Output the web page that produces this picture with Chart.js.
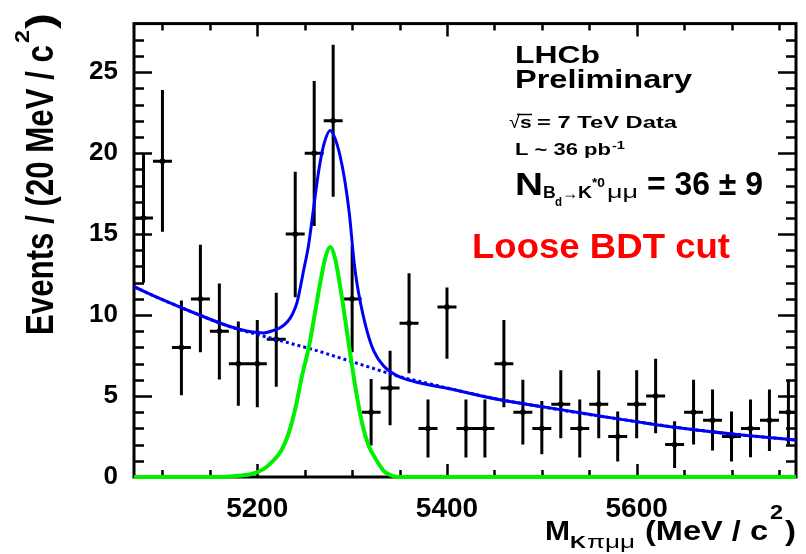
<!DOCTYPE html>
<html>
<head>
<meta charset="utf-8">
<script src="https://cdn.jsdelivr.net/npm/chart.js@4.4.1/dist/chart.umd.min.js"></script>
<style>
  html, body { margin: 0; background: #fff; }
</style>
</head>
<body>
<canvas id="mass" width="806" height="554"></canvas>
<script>
// K pi mu mu invariant mass, 20 MeV bins
const massBins = [5080, 5100, 5120, 5140, 5160, 5180, 5200, 5220, 5240, 5260, 5280, 5300,
                  5320, 5340, 5360, 5380, 5400, 5420, 5440, 5460, 5480, 5500, 5520, 5540,
                  5560, 5580, 5600, 5620, 5640, 5660, 5680, 5700, 5720, 5740, 5760];
const events   = [16, 19.5, 8, 11, 9, 7, 7, 8.5, 15, 20, 22, 11,
                  4, 5.5, 9.5, 3, 10.5, 3, 3, 7, 4, 3, 4.5, 3,
                  4.5, 2.5, 4.5, 5, 2, 4, 3.5, 2.5, 3, 3.5, 4];
const errHigh  = [4.0, 4.4, 2.9, 3.35, 2.95, 2.6, 2.7, 2.88, 3.85, 4.45, 4.7, 3.3,
                  2.05, 2.3, 3.08, 1.78, 1.2, 1.78, 1.78, 2.7, 2.0, 1.7, 2.1, 1.78,
                  2.1, 1.55, 2.1, 2.3, 1.45, 2.0, 1.9, 1.55, 1.78, 1.9, 2.0];
const errLow   = [4.0, 4.35, 2.95, 3.3, 2.98, 2.6, 2.7, 2.92, 3.9, 4.5, 4.7, 3.3,
                  2.05, 2.3, 3.1, 1.79, 3.2, 1.79, 1.79, 2.7, 2.0, 1.6, 2.1, 1.79,
                  2.1, 1.55, 2.1, 2.3, 1.45, 2.0, 1.87, 1.55, 1.78, 1.9, 2.0];
const binHalf = 10;

// total fit (signal + background)
const fitX = [5070, 5100, 5137, 5172, 5195, 5207, 5217, 5225, 5232, 5237, 5242, 5249, 5254,
              5258, 5265, 5270, 5277, 5282, 5287, 5292, 5297, 5302, 5305, 5309, 5316, 5323,
              5333, 5347, 5365, 5400, 5453, 5505, 5558, 5610, 5663, 5716, 5768];
const fitY = [11.75, 10.95, 10.05, 9.28, 8.95, 8.9, 9.05, 9.25, 9.6, 10.05, 10.8, 12.8, 14.3,
              16.0, 19.0, 20.5, 21.4, 20.9, 19.9, 18.4, 16.3, 13.3, 12.0, 10.7, 8.95, 7.76,
              6.87, 6.27, 5.9, 5.48, 4.8, 4.3, 3.8, 3.32, 2.9, 2.56, 2.28];

// combinatorial background component
const bkgX = [5070, 5100, 5140, 5170, 5200, 5230, 5260, 5290, 5320, 5350, 5380, 5400,
              5450, 5500, 5550, 5600, 5650, 5700, 5768];
const bkgY = [11.75, 10.95, 9.98, 9.30, 8.80, 8.33, 7.85, 7.3, 6.75, 6.2, 5.78, 5.5,
              4.85, 4.33, 3.86, 3.42, 3.0, 2.66, 2.28];

// Bd -> K*0 mu mu signal component
const sigX = [5070, 5160, 5180, 5195, 5207, 5215, 5225, 5233, 5240, 5247, 5255, 5261, 5267,
              5272, 5277, 5282, 5287, 5293, 5299, 5305, 5311, 5317, 5326, 5333, 5340, 5348, 5768];
const sigY = [0, 0, 0.08, 0.2, 0.5, 0.9, 1.6, 2.7, 4.2, 6.2, 8.2, 10.2, 12.2,
              13.6, 14.2, 13.5, 11.9, 9.6, 7.2, 5.0, 3.2, 2.0, 1.0, 0.4, 0.12, 0, 0];

const xTicks = [5200, 5400, 5600];
const yTicks = [0, 5, 10, 15, 20, 25];

const FONT = '"Liberation Sans", Arial, Helvetica, sans-serif';

const pts = (xs, ys) => xs.map((x, i) => ({ x: x, y: ys[i] }));

const vBars = [], hBars = [];
massBins.forEach((m, i) => {
  vBars.push({ x: m, y: events[i] - errLow[i] }, { x: m, y: events[i] + errHigh[i] }, { x: m, y: null });
  hBars.push({ x: m - binHalf, y: events[i] }, { x: m + binHalf, y: events[i] }, { x: m + binHalf, y: null });
});

// frame with ROOT style ticks on all four sides
const frame = {
  id: 'frame',
  beforeDatasetsDraw(chart) {
    const { ctx, chartArea: a, scales: { x, y } } = chart;
    ctx.save();
    ctx.strokeStyle = '#000';
    ctx.lineWidth = 2.5;
    ctx.beginPath();
    for (let v = 1; v < 28; v++) {
      const py = Math.round(y.getPixelForValue(v)) + 0.5;
      const len = v % 5 === 0 ? 18 : 10;
      ctx.moveTo(a.left, py); ctx.lineTo(a.left + len, py);
      ctx.moveTo(a.right, py); ctx.lineTo(a.right - len, py);
    }
    for (let m = 5100; m < 5768; m += 50) {
      const px = Math.round(x.getPixelForValue(m)) + 0.5;
      const len = m % 200 === 0 ? 13 : 7;
      ctx.moveTo(px, a.bottom); ctx.lineTo(px, a.bottom - len);
      ctx.moveTo(px, a.top); ctx.lineTo(px, a.top + len);
    }
    ctx.stroke();
    ctx.lineWidth = 3;
    ctx.strokeRect(a.left, a.top, a.right - a.left, a.bottom - a.top);
    ctx.restore();
  }
};

// text drawn left aligned on its baseline, squeezed to a given width
function put(ctx, t, x, y, font, w) {
  ctx.font = font;
  const nat = ctx.measureText(t).width;
  ctx.save();
  ctx.translate(x, y);
  ctx.scale(w ? w / nat : 1, 1);
  ctx.fillText(t, 0, 0);
  ctx.restore();
}

const labels = {
  id: 'labels',
  afterDraw(chart) {
    const ctx = chart.ctx;
    const B = s => 'bold ' + s + 'px ' + FONT;
    const N = s => s + 'px ' + FONT;
    ctx.save();
    ctx.fillStyle = '#000';
    ctx.strokeStyle = '#000';
    ctx.textAlign = 'left';
    ctx.textBaseline = 'alphabetic';

    // y axis title
    ctx.save();
    ctx.translate(53, 335);
    ctx.rotate(-Math.PI / 2);
    put(ctx, 'Events / (20 MeV / c', 0, 0, B(39), 290);
    put(ctx, '2', 292, -24, B(20), 13);
    put(ctx, ')', 306, 0, B(39), 16);
    ctx.restore();

    // x axis title
    put(ctx, 'M', 545, 540, B(28), 25);
    put(ctx, 'K', 570, 548, B(17), 16);
    put(ctx, 'πμμ', 587, 548, N(18), 48);
    put(ctx, '(MeV / c', 645, 540, B(28), 123);
    put(ctx, '2', 770, 519, B(21), 13);
    put(ctx, ')', 785, 540, B(28), 11);

    // experiment block
    put(ctx, 'LHCb', 515, 63, B(24), 85);
    put(ctx, 'Preliminary', 515, 88, B(25), 177);
    put(ctx, '√', 509, 128, N(18), 11);
    ctx.lineWidth = 1.5;
    ctx.beginPath();
    ctx.moveTo(517, 114.5); ctx.lineTo(532, 114.5);
    ctx.stroke();
    put(ctx, 's', 520, 128, B(17), 11.7);
    put(ctx, '= 7 TeV Data', 537, 128, B(17), 140);
    put(ctx, 'L ~ 36 pb', 515, 155, B(17), 96);
    put(ctx, '-1', 612, 149, B(11), 13);

    put(ctx, 'N', 515, 195, B(32), 28);
    put(ctx, 'B', 543, 198, B(17), 12.7);
    put(ctx, 'd', 555, 206, B(12), 7);
    put(ctx, '→', 562, 199, N(18), 16);
    put(ctx, 'K', 578, 198, B(17), 14);
    put(ctx, '*0', 592, 187, B(12), 13);
    put(ctx, 'μμ', 607, 198, N(19), 31);
    put(ctx, '= 36 ± 9', 647, 195, B(33), 116);

    ctx.fillStyle = '#ff0000';
    put(ctx, 'Loose BDT cut', 472, 258, B(35), 258);
    ctx.restore();
  }
};

new Chart(document.getElementById('mass'), {
  type: 'line',
  data: {
    datasets: [
      {
        label: 'fit',
        data: pts(fitX, fitY),
        borderColor: '#0000f5',
        borderWidth: 3,
        pointRadius: 0,
        cubicInterpolationMode: 'monotone',
        order: 0
      },
      {
        label: 'background',
        data: pts(bkgX, bkgY),
        borderColor: '#0000f5',
        borderWidth: 3,
        borderDash: [3, 3],
        pointRadius: 0,
        cubicInterpolationMode: 'monotone',
        order: 1
      },
      {
        label: 'signal',
        data: pts(sigX, sigY),
        borderColor: '#00f000',
        borderWidth: 4,
        pointRadius: 0,
        cubicInterpolationMode: 'monotone',
        clip: false,
        order: -1
      },
      {
        label: 'data',
        type: 'scatter',
        data: pts(massBins, events),
        backgroundColor: '#000',
        borderColor: '#000',
        pointRadius: 2.5,
        order: 3
      },
      {
        label: 'err',
        data: vBars,
        borderColor: '#000',
        borderWidth: 3,
        pointRadius: 0,
        spanGaps: false,
        tension: 0,
        order: 4
      },
      {
        label: 'bin',
        data: hBars,
        borderColor: '#000',
        borderWidth: 3,
        pointRadius: 0,
        spanGaps: false,
        tension: 0,
        order: 5
      }
    ]
  },
  options: {
    responsive: false,
    animation: false,
    events: [],
    layout: { padding: { top: 7, right: 10, left: 0, bottom: 0 } },
    plugins: { legend: { display: false }, tooltip: { enabled: false } },
    scales: {
      x: {
        type: 'linear',
        min: 5070,
        max: 5768,
        afterBuildTicks: s => { s.ticks = xTicks.map(v => ({ value: v })); },
        afterFit: s => { s.height = 77; },
        grid: { display: false },
        border: { display: false },
        ticks: {
          color: '#000',
          padding: 7,
          maxRotation: 0,
          autoSkip: false,
          font: { family: FONT, size: 28, weight: 'bold' },
          callback: v => String(v)
        }
      },
      y: {
        min: 0,
        max: 28,
        afterBuildTicks: s => { s.ticks = yTicks.map(v => ({ value: v })); },
        afterFit: s => { s.width = 134; },
        grid: { display: false },
        border: { display: false },
        ticks: {
          color: '#000',
          padding: 8,
          font: { family: FONT, size: 26, weight: 'bold' },
          callback: v => String(v)
        }
      }
    }
  },
  plugins: [frame, labels]
});
</script>
</body>
</html>
